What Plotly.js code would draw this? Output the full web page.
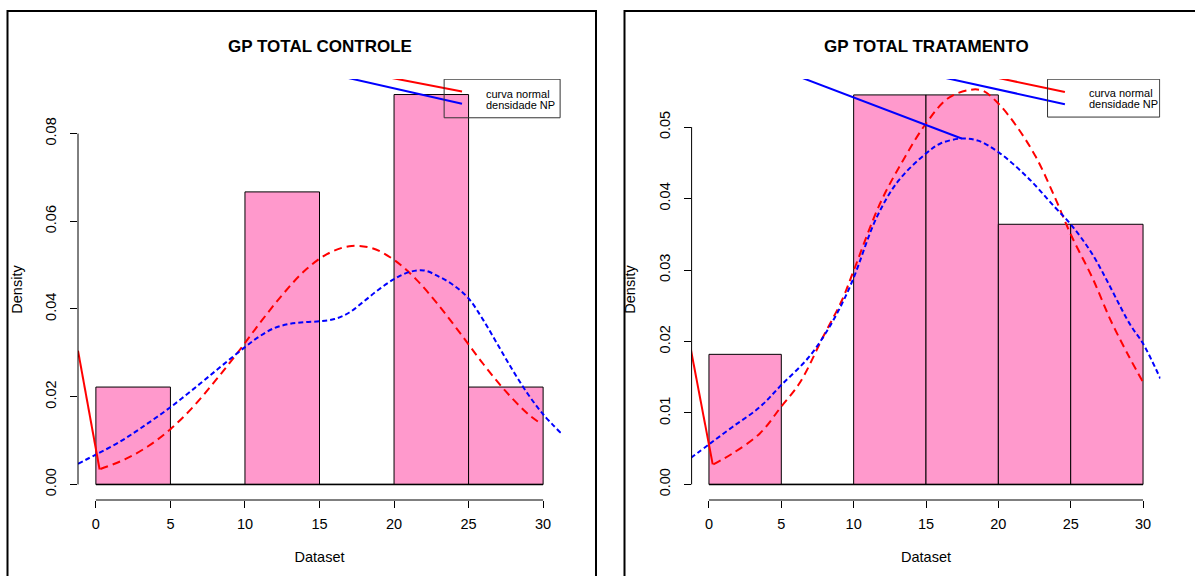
<!DOCTYPE html>
<html>
<head>
<meta charset="utf-8">
<script src="https://cdn.plot.ly/plotly-3.0.1.min.js"></script>
<style>html,body{margin:0;padding:0;background:#fff;}#chart{width:1195px;height:576px;}</style>
</head>
<body>
<div id="chart"></div>
<script>
// ---------- data ----------
const binCenters = [2.5, 7.5, 12.5, 17.5, 22.5, 27.5];
const binWidth = 5;
const breaks = [0, 30];
const xTicks = [0, 5, 10, 15, 20, 25, 30];

// GP TOTAL CONTROLE
const ctrlDensity = [0.0222, 0, 0.0667, 0, 0.0889, 0.0222];
const ctrlNormX = [0.3, 2, 3.5, 5, 6.5, 8, 9.5, 11, 12.5, 14, 15.5, 17, 18.5, 20, 21.5, 23, 24.5, 26, 27.5, 29, 29.8];
const ctrlNormY = [0.0035, 0.0058, 0.0087, 0.0126, 0.0176, 0.0236, 0.0300, 0.0368, 0.0432, 0.0487, 0.0525, 0.0543, 0.0539, 0.0512, 0.0467, 0.0408, 0.0342, 0.0274, 0.0212, 0.0160, 0.0140];
const ctrlKdeX = [-1.2, 0, 1.5, 3, 5, 7, 8.5, 10, 11, 12, 13, 14, 15, 16, 17, 18, 19, 20, 21, 22, 23, 24, 25, 26, 27, 28, 29, 30, 31.2];
const ctrlKdeY = [0.0047, 0.0068, 0.0095, 0.0128, 0.0176, 0.0230, 0.0272, 0.0313, 0.0338, 0.0357, 0.0366, 0.0370, 0.0372, 0.0377, 0.0392, 0.0418, 0.0445, 0.0468, 0.0484, 0.0488, 0.0474, 0.0454, 0.0424, 0.0374, 0.0316, 0.0258, 0.0205, 0.0160, 0.0117];
const ctrlRedSolidX = [-1.2, 0.25];
const ctrlRedSolidY = [0.0305, 0.0034];
const ctrlRedTopX = [18.9, 24.56];
const ctrlRedTopY = [0.0933, 0.0896];
const ctrlBlueTopX = [15.6, 24.56];
const ctrlBlueTopY = [0.0937, 0.0868];

// GP TOTAL TRATAMENTO
const tratDensity = [0.0182, 0, 0.0545, 0.0545, 0.0364, 0.0364];
const tratNormX = [0.3, 1.6, 3.5, 5, 6.3, 7.9, 9.2, 10, 11.8, 13.4, 15, 16.5, 18, 18.9, 20, 21.3, 22.6, 23.9, 25, 26.5, 27.8, 29, 30];
const tratNormY = [0.0028, 0.0043, 0.0071, 0.0109, 0.0143, 0.0207, 0.0258, 0.0299, 0.0392, 0.0453, 0.0505, 0.0540, 0.0552, 0.0551, 0.0533, 0.0500, 0.0458, 0.0402, 0.0350, 0.0289, 0.0228, 0.0180, 0.0143];
const tratKdeX = [-1.26, 0, 1.6, 3.5, 5, 6.9, 8.2, 9.2, 10, 11.6, 13.1, 15, 16, 17.5, 18.6, 20, 22, 23.9, 25, 26.5, 29.1, 30, 31.2];
const tratKdeY = [0.0037, 0.0056, 0.0080, 0.0108, 0.0139, 0.0178, 0.0216, 0.0253, 0.0289, 0.0374, 0.0425, 0.0463, 0.0477, 0.0484, 0.0481, 0.0465, 0.0430, 0.0388, 0.0364, 0.0322, 0.0224, 0.0197, 0.0148];
const tratRedSolidX = [-1.26, 0.26];
const tratRedSolidY = [0.0190, 0.0028];
const tratRedTopX = [19.0, 24.6];
const tratRedTopY = [0.0573, 0.0549];
const tratBlueTopX = [15.4, 24.6];
const tratBlueTopY = [0.0573, 0.0532];
const tratBluePeakX = [5.9, 17.46];
const tratBluePeakY = [0.0573, 0.0484];

const titles = ["GP TOTAL CONTROLE", "GP TOTAL TRATAMENTO"];
const legendLabels = ["curva normal", "densidade NP"];
const ctrlYTicks = [0, 0.02, 0.04, 0.06, 0.08];
const tratYTicks = [0, 0.01, 0.02, 0.03, 0.04, 0.05];

// ---------- styling ----------
const FONT = "Liberation Sans, Arial, Helvetica, sans-serif";
const PINK = "#FF99CC";
const RED = "#FF0000";
const BLUE = "#0000FF";
const RED_DASH = "8px,5px";
const BLUE_DASH = "5px,3px";
const FS = 14.5;

function panelTraces(xa, ya, dens, nx, ny, kx, ky, solids) {
  const t = [];
  t.push({type: "bar", x: binCenters, y: dens, width: binWidth, xaxis: xa, yaxis: ya,
    marker: {color: PINK, line: {color: "#000", width: 1}}, showlegend: false, hoverinfo: "skip"});
  t.push({type: "scatter", mode: "lines", x: breaks, y: [0, 0], xaxis: xa, yaxis: ya,
    line: {color: "#000", width: 1.5}, showlegend: false, hoverinfo: "skip"});
  t.push({type: "scatter", mode: "lines", x: nx, y: ny, xaxis: xa, yaxis: ya, line: {color: RED, width: 2, dash: RED_DASH, shape: "spline"}, showlegend: false});
  t.push({type: "scatter", mode: "lines", x: kx, y: ky, xaxis: xa, yaxis: ya, line: {color: BLUE, width: 2, dash: BLUE_DASH, shape: "spline"}, showlegend: false});
  solids.forEach(s => t.push({type: "scatter", mode: "lines", x: s[0], y: s[1], xaxis: xa, yaxis: ya, line: {color: s[2], width: 2}, showlegend: false}));
  return t;
}

const data = [].concat(
  panelTraces("x", "y", ctrlDensity, ctrlNormX, ctrlNormY, ctrlKdeX, ctrlKdeY, [
    [ctrlRedSolidX, ctrlRedSolidY, RED], [ctrlRedTopX, ctrlRedTopY, RED], [ctrlBlueTopX, ctrlBlueTopY, BLUE]]),
  panelTraces("x2", "y2", tratDensity, tratNormX, tratNormY, tratKdeX, tratKdeY, [
    [tratRedSolidX, tratRedSolidY, RED], [tratRedTopX, tratRedTopY, RED], [tratBlueTopX, tratBlueTopY, BLUE], [tratBluePeakX, tratBluePeakY, BLUE]])
);

const W = 1195, H = 576;
const px = v => v / W, py = v => 1 - v / H;

function xAxis(domain, anchor) {
  return {domain: domain, anchor: anchor, range: [-1.2, 31.2], tickvals: xTicks, ticks: "outside", ticklen: 7,
    tickcolor: "#000", showline: false, zeroline: false, showgrid: false, ticklabelstandoff: 4,
    tickfont: {family: FONT, size: FS, color: "#000"},
    title: {text: "Dataset", font: {family: FONT, size: FS, color: "#000"}, standoff: 20}};
}
function yAxis(domain, anchor, range, ticks) {
  return {domain: domain, anchor: anchor, range: range, tickvals: ticks, tickformat: ".2f", ticks: "outside", ticklen: 7,
    tickcolor: "#000", tickangle: -90, showline: false, zeroline: false, showgrid: false, ticklabelstandoff: 8,
    tickfont: {family: FONT, size: FS, color: "#000"},
    title: {text: "Density", font: {family: FONT, size: FS, color: "#000"}, standoff: 17}};
}

const yDom = [py(500), py(79)];
const layout = {
  width: W, height: H, margin: {l: 0, r: 0, t: 0, b: 0}, paper_bgcolor: "#fff", plot_bgcolor: "#fff",
  showlegend: false, font: {family: FONT, color: "#000"},
  xaxis: xAxis([px(78), px(561)], "y"),
  yaxis: yAxis(yDom, "x", [-0.003556, 0.092444], ctrlYTicks),
  xaxis2: xAxis([px(691.6), px(1160.4)], "y2"),
  yaxis2: yAxis(yDom, "x2", [-0.002182, 0.056727], tratYTicks),
  shapes: [
    // figure frames
    {type: "rect", xref: "paper", yref: "paper", x0: px(7.5), x1: px(596), y0: -0.05, y1: py(11), line: {color: "#000", width: 2}},
    {type: "rect", xref: "paper", yref: "paper", x0: px(624.5), x1: 1.05, y0: -0.05, y1: py(11), line: {color: "#000", width: 2}},
    // R style axis lines
    {type: "line", xref: "x domain", yref: "y", x0: 0, x1: 0, y0: ctrlYTicks[0], y1: ctrlYTicks[ctrlYTicks.length - 1], line: {color: "#000", width: 1}},
    {type: "line", xref: "x", yref: "y domain", x0: xTicks[0], x1: xTicks[xTicks.length - 1], y0: 0, y1: 0, line: {color: "#000", width: 1}},
    {type: "line", xref: "x2 domain", yref: "y2", x0: 0, x1: 0, y0: tratYTicks[0], y1: tratYTicks[tratYTicks.length - 1], line: {color: "#000", width: 1}},
    {type: "line", xref: "x2", yref: "y2 domain", x0: xTicks[0], x1: xTicks[xTicks.length - 1], y0: 0, y1: 0, line: {color: "#000", width: 1}},
    // legend boxes (topright)
    {type: "rect", xref: "x", yref: "y", x0: 23.36, x1: 31.14, y0: 0.0836, y1: 0.0924, line: {color: "#333", width: 1}},
    {type: "rect", xref: "x2", yref: "y2", x0: 23.4, x1: 31.15, y0: 0.0514, y1: 0.0567, line: {color: "#333", width: 1}}
  ],
  annotations: [
    {text: "<b>" + titles[0] + "</b>", xref: "x domain", yref: "paper", x: 0.5, y: py(47), xanchor: "center", yanchor: "middle", showarrow: false, font: {family: FONT, size: 17, color: "#000"}},
    {text: "<b>" + titles[1] + "</b>", xref: "x2 domain", yref: "paper", x: 0.5, y: py(47), xanchor: "center", yanchor: "middle", showarrow: false, font: {family: FONT, size: 17, color: "#000"}},
    {text: legendLabels[0], xref: "x", yref: "y", x: 26.04, y: 0.0891, xanchor: "left", yanchor: "middle", showarrow: false, font: {family: FONT, size: 11, color: "#000"}},
    {text: legendLabels[1], xref: "x", yref: "y", x: 26.04, y: 0.0865, xanchor: "left", yanchor: "middle", showarrow: false, font: {family: FONT, size: 11, color: "#000"}},
    {text: legendLabels[0], xref: "x2", yref: "y2", x: 26.12, y: 0.0548, xanchor: "left", yanchor: "middle", showarrow: false, font: {family: FONT, size: 11, color: "#000"}},
    {text: legendLabels[1], xref: "x2", yref: "y2", x: 26.12, y: 0.0532, xanchor: "left", yanchor: "middle", showarrow: false, font: {family: FONT, size: 11, color: "#000"}}
  ]
};

Plotly.newPlot("chart", data, layout, {displayModeBar: false, staticPlot: true});
</script>
</body>
</html>
